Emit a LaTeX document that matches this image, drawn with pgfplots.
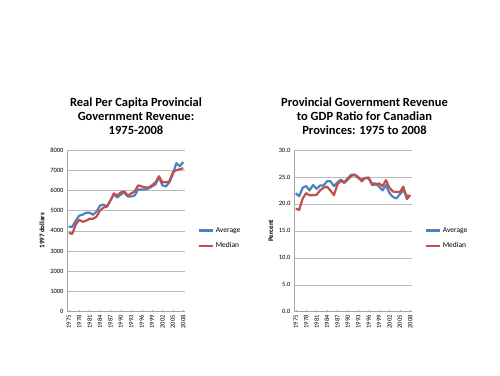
\documentclass[border=0pt]{standalone}
\usepackage{pgfplots}
\pgfplotsset{compat=1.18}
\usepackage{pgfplotstable}
\usepackage{fontspec}
\setmainfont{Carlito}
\definecolor{xlblue}{HTML}{4F81BD}
\definecolor{xlred}{HTML}{C0504D}
\pgfplotstableread{
year avg med
1975 4200 3900
1976 4200 3850
1977 4500 4300
1978 4750 4550
1979 4800 4450
1980 4900 4500
1981 4900 4600
1982 4800 4600
1983 4950 4700
1984 5250 5000
1985 5300 5150
1986 5200 5200
1987 5500 5500
1988 5800 5850
1989 5650 5750
1990 5800 5900
1991 5900 5950
1992 5700 5750
1993 5700 5850
1994 5750 5950
1995 6050 6250
1996 6050 6200
1997 6050 6150
1998 6100 6150
1999 6200 6250
2000 6300 6400
2001 6650 6700
2002 6250 6400
2003 6200 6400
2004 6400 6450
2005 6800 6900
2006 7350 7000
2007 7200 7050
2008 7400 7100
}\revtable
\pgfplotstableread{
year avg med
1975 22.0 19.1
1976 21.4 18.9
1977 23.0 21.0
1978 23.3 22.0
1979 22.5 21.6
1980 23.5 21.6
1981 22.8 21.7
1982 23.4 22.5
1983 23.4 23.0
1984 24.2 23.2
1985 24.2 22.5
1986 23.3 21.6
1987 24.0 23.6
1988 24.5 24.3
1989 24.0 23.9
1990 24.8 24.5
1991 25.4 25.2
1992 25.4 25.4
1993 24.8 25.0
1994 24.5 24.2
1995 24.8 24.8
1996 24.7 24.9
1997 23.8 23.5
1998 23.8 23.6
1999 23.2 23.8
2000 22.5 23.3
2001 23.5 24.4
2002 22.0 23.0
2003 21.3 22.3
2004 21.0 22.2
2005 21.8 22.2
2006 22.5 23.2
2007 21.5 20.9
2008 21.5 21.6
}\gdptable
\pgfplotsset{
  xlstyle/.style={
    scale only axis,
    width=118pt, height=161.7pt,
    xmin=1974.5, xmax=2008.5,
    xtick={1975,1978,...,2008},
    x tick label style={rotate=90, anchor=east, font=\fontsize{6.5}{7}\selectfont, /pgf/number format/1000 sep={}},
    y tick label style={font=\fontsize{6.5}{7}\selectfont},
    /pgf/number format/assume math mode=true,
    axis x line*=bottom, axis y line*=left,
    axis line style={draw=gray!70, line width=0.6pt},
    ymajorgrids, grid style={gray!55, line width=0.5pt},
    major tick length=2pt,
    xtick style={draw=gray!70},
    ytick style={draw=none},
    axis line style={-},
    legend style={draw=none, fill=none, font=\fontsize{7.5}{8}\selectfont, at={(1.105,0.453)}, anchor=west, row sep=5pt, inner sep=0pt, cells={anchor=west}},
    legend image code/.code={\draw[#1, line width=2.2pt] (0pt,0pt) -- (14pt,0pt);},
    every axis plot/.append style={line width=2.2pt, no markers, line join=round},
    ylabel style={font=\bfseries\fontsize{7}{8}\selectfont},
  }
}
\begin{document}
\begin{tikzpicture}
\path[use as bounding box] (0,0) rectangle (500pt,375pt);
\begin{axis}[xlstyle, at={(67pt,63.3pt)}, anchor=south west,
  ymin=0, ymax=8000, ytick={0,1000,...,8000},
  yticklabel style={/pgf/number format/1000 sep={}},
  ylabel={1997 dollars}, ylabel style={at={(ticklabel cs:0.5)}, yshift=-1pt}]
\addplot[xlblue] table[x=year, y=avg] {\revtable};
\addplot[xlred] table[x=year, y=med] {\revtable};
\legend{Average, Median}
\end{axis}
\begin{axis}[xlstyle, at={(294pt,63.3pt)}, anchor=south west,
  ymin=0, ymax=30, ytick={0,5,...,30},
  yticklabel style={/pgf/number format/.cd, fixed, fixed zerofill, precision=1},
  ylabel={Percent}, ylabel style={at={(ticklabel cs:0.5)}, yshift=-1pt}]
\addplot[xlblue] table[x=year, y=avg] {\gdptable};
\addplot[xlred] table[x=year, y=med] {\gdptable};
\legend{Average, Median}
\end{axis}
\node[align=center, inner sep=0pt, font=\bfseries\fontsize{12.5}{13.8}\selectfont, anchor=north] at (136pt,277pt)
  {Real Per Capita Provincial\\Government Revenue:\\1975-2008};
\node[align=center, inner sep=0pt, font=\bfseries\fontsize{12.5}{13.8}\selectfont, anchor=north] at (364.5pt,277pt)
  {Provincial Government Revenue\\to GDP Ratio for Canadian\\Provinces: 1975 to 2008};
\end{tikzpicture}
\end{document}
